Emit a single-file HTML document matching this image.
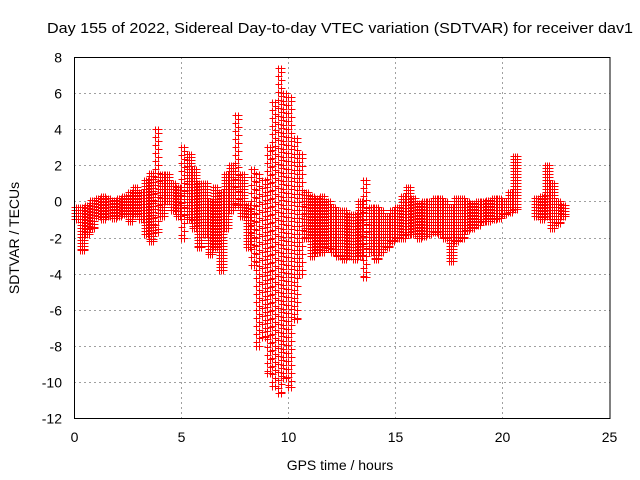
<!DOCTYPE html>
<html><head><meta charset="utf-8"><style>
body{margin:0;background:#fff;}
svg{display:block;font-family:"Liberation Sans",Arial,sans-serif;}
</style></head><body>
<svg id="chart" width="640" height="480" viewBox="0 0 640 480" xmlns="http://www.w3.org/2000/svg">
<rect width="640" height="480" fill="#fff"/>
<text x="340" y="33" font-size="15" textLength="586" lengthAdjust="spacingAndGlyphs" text-anchor="middle">Day 155 of 2022, Sidereal Day-to-day VTEC variation (SDTVAR) for receiver dav1</text>
<g id="grid"></g>
<g id="ticks"></g>
<g id="marks"></g>
<rect x="74.5" y="57.5" width="535.5" height="361" fill="none" stroke="#000" stroke-width="1"/>
<text transform="translate(19,238) rotate(-90)" font-size="14" text-anchor="middle">SDTVAR / TECUs</text>
<text x="340" y="470" font-size="14" text-anchor="middle">GPS time / hours</text>
</svg>
<script>
const xTicks=[0,5,10,15,20,25];
const yTicks=[8,6,4,2,0,-2,-4,-6,-8,-10,-12];
const binTimes=[0,0.25,0.5,0.75,1,1.25,1.5,1.75,2,2.25,2.5,2.75,3,3.25,3.5,3.75,4,4.25,4.5,4.75,5,5.25,5.5,5.75,6,6.25,6.5,6.75,7,7.25,7.5,7.75,8,8.25,8.5,8.75,9,9.25,9.5,9.75,10,10.25,10.5,10.75,11,11.25,11.5,11.75,12,12.25,12.5,12.75,13,13.25,13.5,13.75,14,14.25,14.5,14.75,15,15.25,15.5,15.75,16,16.25,16.5,16.75,17,17.25,17.5,17.75,18,18.25,18.5,18.75,19,19.25,19.5,19.75,20,20.25,20.5,21.5,21.75,22,22.25,22.5,22.75];
const binLow=[-1.0,-2.7,-1.8,-1.5,-0.8,-1.0,-0.8,-0.9,-0.8,-0.7,-1.1,-0.7,-1.0,-1.8,-2.2,-1.7,-0.8,0.0,-0.5,-0.8,-2.0,-1.0,-1.5,-2.5,-1.8,-2.9,-2.5,-3.8,-1.5,-0.5,-0.2,-0.8,-2.5,-3.5,-8.0,-7.5,-9.5,-10.2,-10.6,-9.8,-10.3,-6.5,-4.0,-2.0,-3.0,-2.8,-2.8,-2.6,-2.8,-3.0,-3.2,-3.0,-3.2,-3.0,-4.2,-2.8,-3.2,-2.8,-2.5,-2.2,-2.0,-2.0,-1.8,-1.8,-2.0,-1.9,-1.8,-1.7,-1.8,-2.0,-3.3,-2.2,-2.0,-1.6,-1.5,-1.3,-1.1,-1.1,-1.0,-0.9,-0.7,-0.6,-0.4,-0.8,-1.0,-0.8,-1.5,-1.2,-0.8];
const binHigh=[-0.3,-0.3,-0.2,0.1,0.2,0.3,0.2,0.1,0.2,0.3,0.5,0.8,0.5,1.2,1.6,4.0,1.5,1.5,1.0,0.8,3.0,2.6,1.8,1.0,1.0,0.0,0.8,0.5,1.5,2.0,4.8,1.5,-0.2,1.8,1.5,1.2,3.0,5.5,7.4,6.0,5.8,3.5,2.6,0.5,0.3,0.2,0.3,0.0,-0.3,-0.5,-0.5,-0.7,-0.7,0.0,1.2,-0.3,-0.3,-0.5,-0.8,-0.5,-0.3,0.3,0.8,0.2,-0.1,0.0,0.0,0.2,0.2,0.0,-0.3,0.2,0.2,0.0,-0.1,0.0,0.0,0.1,0.2,0.2,0.0,0.5,2.5,0.2,0.3,2.0,1.0,0.0,-0.2];
const binWidth=0.25;
function xs(t){return 74.3+t*21.4;}
function ys(v){return 57+(8-v)*18.05;}
const NS="http://www.w3.org/2000/svg";
const grid=document.getElementById('grid'),ticks=document.getElementById('ticks'),marks=document.getElementById('marks');
xTicks.forEach(t=>{const x=Math.round(xs(t))+0.5;
 if(t>0&&t<25){const l=document.createElementNS(NS,'line');
 
 
 l.setAttribute('x1',x);l.setAttribute('x2',x);l.setAttribute('y1',57);l.setAttribute('y2',418);
 l.setAttribute('stroke','#a0a0a0');l.setAttribute('stroke-dasharray','2,3');grid.appendChild(l);}
 const tl=document.createElementNS(NS,'text');
 
 
 tl.setAttribute('x',x);tl.setAttribute('y',442);tl.setAttribute('font-size','14');tl.setAttribute('text-anchor','middle');tl.textContent=t;ticks.appendChild(tl);});
yTicks.forEach(v=>{const y=Math.round(ys(v))+0.5;
 if(v<8&&v>-12){const l=document.createElementNS(NS,'line');
 
 
 l.setAttribute('x1',74);l.setAttribute('x2',610);l.setAttribute('y1',y);l.setAttribute('y2',y);
 l.setAttribute('stroke','#a0a0a0');l.setAttribute('stroke-dasharray','2,3');grid.appendChild(l);}
 const tl=document.createElementNS(NS,'text');
 
 
 tl.setAttribute('x',62);tl.setAttribute('y',y+5);tl.setAttribute('font-size','14');tl.setAttribute('text-anchor','end');tl.textContent=v;ticks.appendChild(tl);});
binTimes.forEach((t,i)=>{
 let d='';
 const plus=(x,y)=>{x=Math.round(x)+0.5;y=Math.round(y)+0.5;d+=`M${x-3} ${y}h7M${x} ${y-3}v7`;};
 const x0=xs(t),x1=xs(t+binWidth*0.95);
 const yTop=ys(binHigh[i]),yBot=ys(binLow[i]);
 const span=yBot-yTop; const big=span>80;
 const step=big?8:3, xstep=big?3:2;
 let k=0;
 for(let x=x0;x<=x1;x+=xstep){const off=big?(k%2)*4:0;k++;
  for(let y=yTop+off;y<=yBot;y+=step){plus(x,y);} plus(x,yBot);plus(x,yTop);}
 const p=document.createElementNS(NS,'path');
 
 
 p.setAttribute('d',d);p.setAttribute('fill','none');p.setAttribute('stroke','#ff0000');p.setAttribute('stroke-width','1');
 marks.appendChild(p);
});
</script>
</body></html>
